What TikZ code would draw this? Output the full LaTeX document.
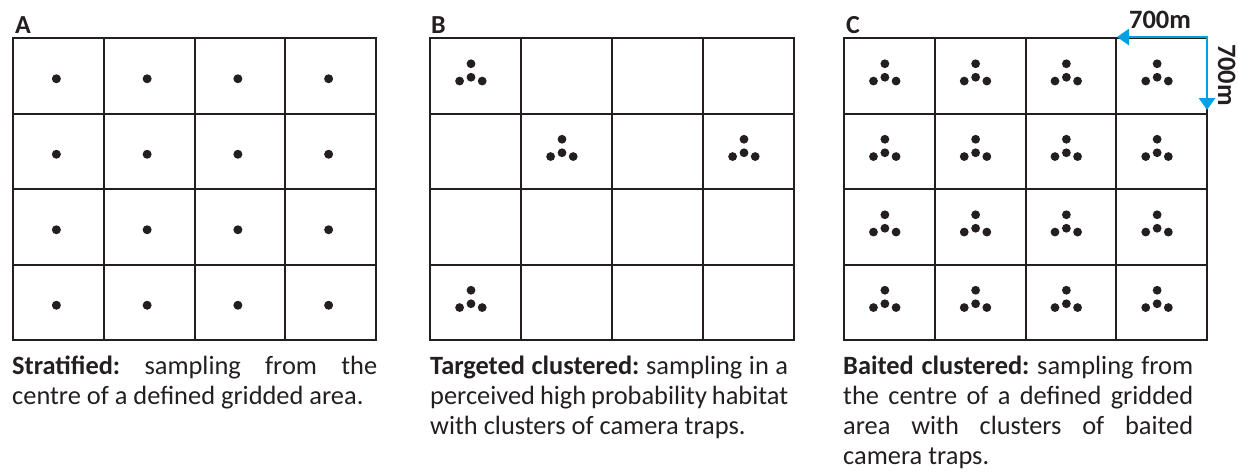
\documentclass[tikz,border=0pt]{standalone}
\usepackage{fontspec}
\setmainfont{Carlito}
\usetikzlibrary{arrows.meta}
\definecolor{ink}{HTML}{231F20}
\definecolor{cyanarrow}{RGB}{0,160,228}
\frenchspacing
\tikzset{
  gridline/.style={draw=ink, line width=2pt},
  txt/.style={anchor=base west, inner sep=0pt, text=ink, font=\fontsize{26.4}{32}\selectfont},
  lbl/.style={anchor=base west, inner sep=0pt, text=ink, font=\bfseries\fontsize{26}{32}\selectfont},
  dimlbl/.style={anchor=base, inner sep=0pt, text=ink, font=\bfseries\fontsize{26.5}{30}\selectfont},
  dimarrow/.style={draw=cyanarrow, line width=2.7pt, line join=miter,
    {Triangle[length=12pt,width=16pt]}-{Triangle[length=12pt,width=16pt]}},
}
\newcommand\gridat[2]{%
  \draw[gridline] (#1,38) rectangle (#2,340);
  \foreach \k in {1,2,3} {
    \draw[gridline] ({#1+\k*(#2-#1)/4},38) -- ({#1+\k*(#2-#1)/4},340);
    \draw[gridline] (#1,{38+\k*75.5}) -- (#2,{38+\k*75.5});
  }}
\newcommand\trapcluster[2]{% #1 left of grid, #2 right ; uses \ci \cj
  \pgfmathsetmacro\mx{#1+(\ci+0.5)*(#2-#1)/4-4.5}
  \pgfmathsetmacro\my{38+(\cj+0.5)*75.5+1.5}
  \fill[ink] (\mx,\my) circle (4.4);
  \fill[ink] (\mx,\my-13.5) circle (4.4);
  \fill[ink] (\mx-11.4,\my+3.8) circle (4.4);
  \fill[ink] (\mx+11.2,\my+3.8) circle (4.4);
}
\begin{document}
\begin{tikzpicture}[x=1pt,y=-1pt]
\useasboundingbox (0,0) rectangle (1238,472);

% panel labels
\node[lbl] (la) at (15,33) {A};
\node[lbl] (lb) at (431,33) {B};
\node[lbl] (lc) at (846,33) {C};

% grids
\gridat{13}{376}
\gridat{430}{794}
\gridat{844}{1207}

% A: single camera traps
\foreach \ci in {0,1,2,3} {
  \foreach \cj in {0,1,2,3} {
    \fill[ink] ({13+(\ci+0.5)*90.75-2},{38+(\cj+0.5)*75.5+3}) circle (4.5);
  }
}

% B: targeted clusters
\foreach \ci/\cj in {0/0,1/1,3/1,0/3} {
  \trapcluster{430}{794}
}

% C: baited clusters
\foreach \ci in {0,1,2,3} {
  \foreach \cj in {0,1,2,3} {
    \trapcluster{844}{1207}
  }
}

% dimension arrows
\coordinate (hl) at (1117,37);
\coordinate (cor) at (1207,37);
\coordinate (vb) at (1207,110);
\draw[dimarrow] (hl) -- (cor) -- (vb);
\node[dimlbl] (h700) at (1160,28) {700m};
\node[dimlbl, rotate=-90] (v700) at (1218,75) {700m};

% captions
\node[txt] (a1) at (12,374) {\makebox[365pt][s]{\textbf{Stratified:} sampling from the}};
\node[txt] (a2) at (12,404) {centre of a defined gridded area.};

\node[txt] (b1) at (430,374) {\makebox[358pt][s]{\textbf{Targeted clustered:} sampling in a}};
\node[txt] (b2) at (430,404) {\makebox[358pt][s]{perceived high probability habitat}};
\node[txt] (b3) at (430,434) {with clusters of camera traps.};

\node[txt] (c1) at (843,374) {\makebox[350pt][s]{\textbf{Baited clustered:} sampling from}};
\node[txt] (c2) at (843,404) {\makebox[350pt][s]{the centre of a defined gridded}};
\node[txt] (c3) at (843,434) {\makebox[350pt][s]{area with clusters of baited}};
\node[txt] (c4) at (843,464) {camera traps.};
\end{tikzpicture}
\end{document}
